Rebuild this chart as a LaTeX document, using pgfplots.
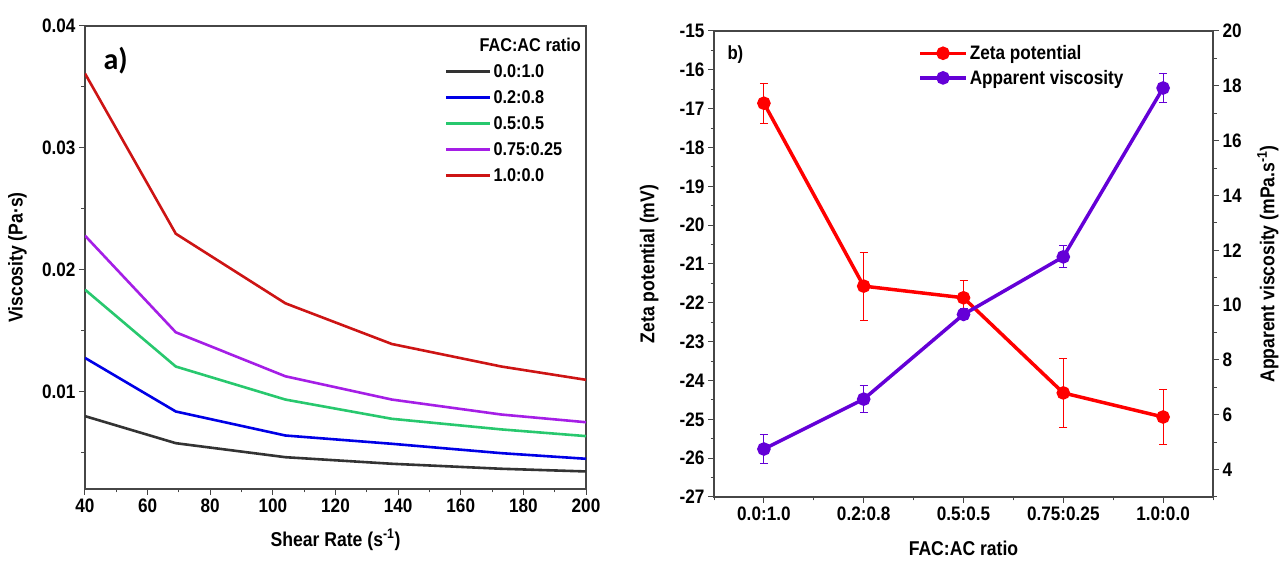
\documentclass[border=0pt]{standalone}
\usepackage{fontspec}
\setmainfont{Liberation Sans}[FakeStretch=0.88]
\newfontfamily\calib{Carlito}
\usepackage{pgfplots}
\pgfplotsset{compat=1.18}
\usepackage{pgfplotstable}

\definecolor{cBlack}{RGB}{51,51,51}
\definecolor{cBlue}{RGB}{0,0,230}
\definecolor{cGreen}{RGB}{40,200,110}
\definecolor{cPurple}{RGB}{165,30,230}
\definecolor{cRed}{RGB}{205,20,20}
\definecolor{zRed}{RGB}{255,0,0}
\definecolor{zPurple}{RGB}{100,0,215}
\definecolor{axcol}{RGB}{70,70,70}

\pgfplotstableread{
x     k        b        g        p        r
40    0.00798  0.01276  0.01836  0.02279  0.03610
69    0.00576  0.00836  0.01205  0.01486  0.02295
104   0.00461  0.00639  0.00934  0.01125  0.01724
138   0.00407  0.00571  0.00776  0.00934  0.01390
173   0.00366  0.00494  0.00689  0.00811  0.01205
200   0.00344  0.00448  0.00634  0.00748  0.01096
}\visc

\pgfplotstableread{
x  zeta    zerr  app    aerr
0  -16.86  0.52  4.75   0.53
1  -21.57  0.88  6.57   0.50
2  -21.87  0.45  9.66   0.20
3  -24.32  0.89  11.76  0.40
4  -24.94  0.71  17.92  0.53
}\zeta

\pgfplotsset{
  common/.style={
    scale only axis,
    anchor=south west,
    /pgf/number format/assume math mode=true,
    axis line style={axcol, line width=1.1pt},
    tick style={axcol, line width=1pt},
    tick align=outside,
    major tick length=6pt,
    minor tick length=3.5pt,
    tick label style={font=\fontsize{19.5}{22}\selectfont\bfseries},
    label style={font=\fontsize{20}{23}\selectfont\bfseries},
  },
}

\begin{document}
\begin{tikzpicture}[font=\fontsize{19}{22}\selectfont\bfseries]
\useasboundingbox (0pt,0pt) rectangle (1279pt,561pt);

% ---------- a) ----------
\begin{axis}[common,
  at={(85pt,72pt)}, width=501pt, height=463pt,
  xmin=40, xmax=200, ymin=0.002, ymax=0.04,
  xtick={40,60,...,200}, minor xtick={50,70,...,190},
  scaled y ticks=false,
  ytick={0.01,0.02,0.03,0.04}, yticklabels={0.01,0.02,0.03,0.04},
  minor ytick={0.005,0.015,0.025,0.035},
  tick pos=left,
  xlabel={Shear Rate (s\textsuperscript{-1})},
  ylabel={Viscosity (Pa·s)},
  xlabel style={at={(axis description cs:0.5,-0.11)}, anchor=center},
  ylabel style={at={(axis description cs:-0.135,0.5)}, anchor=center},
  legend style={draw=none, fill=none, at={(axis description cs:0.998,0.983)}, anchor=north east,
    font=\fontsize{18.5}{20}\selectfont\bfseries, row sep=7.5pt, inner sep=2pt},
  legend cell align=left,
  legend image code/.code={\draw[#1, line width=2.8pt] (0pt,0pt) -- (44pt,0pt);},
  every axis plot/.append style={line width=2.6pt},
]
\addlegendimage{empty legend}\addlegendentry{\hspace{-14pt}FAC:AC ratio}
\addplot[cBlack, no marks] table[x=x, y=k] {\visc}; \addlegendentry{0.0:1.0}
\addplot[cBlue, no marks] table[x=x, y=b] {\visc}; \addlegendentry{0.2:0.8}
\addplot[cGreen, no marks] table[x=x, y=g] {\visc}; \addlegendentry{0.5:0.5}
\addplot[cPurple, no marks] table[x=x, y=p] {\visc}; \addlegendentry{0.75:0.25}
\addplot[cRed, no marks] table[x=x, y=r] {\visc}; \addlegendentry{1.0:0.0}
\node[anchor=west, font=\calib\fontsize{30}{32}\selectfont\bfseries] at (axis description cs:0.03,0.925) {a)};
\end{axis}

% ---------- b) left axis ----------
\begin{axis}[common,
  at={(714pt,64pt)}, width=499pt, height=466pt,
  xmin=-0.5, xmax=4.5, ymin=-27, ymax=-15,
  xtick={0,1,2,3,4},
  xticklabels={0.0:1.0,0.2:0.8,0.5:0.5,0.75:0.25,1.0:0.0},
  minor xtick={-0.5,0.5,1.5,2.5,3.5,4.5},
  ytick={-27,-26,...,-15}, minor ytick={-26.5,-25.5,...,-15.5},
  tick pos=left,
  xlabel={FAC:AC ratio},
  ylabel={Zeta potential (mV)},
  xlabel style={at={(axis description cs:0.5,-0.11)}, anchor=center},
  ylabel style={at={(axis description cs:-0.13,0.5)}, anchor=center},
]
\addplot[zRed, line width=3.5pt, mark=*, mark size=5pt,
  error bars/.cd, y dir=both, y explicit,
  error bar style={line width=0.9pt, zRed},
  error mark options={rotate=90, mark size=4pt, line width=0.9pt, zRed}]
  table[x=x, y=zeta, y error=zerr] {\zeta};
\node[anchor=west] at (axis description cs:0.02,0.95) {b)};
\end{axis}

% ---------- b) right axis ----------
\begin{axis}[common,
  at={(714pt,64pt)}, width=499pt, height=466pt,
  xmin=-0.5, xmax=4.5, ymin=3, ymax=20,
  axis y line*=right, axis x line=none,
  ytick={4,6,...,20}, minor ytick={3,5,...,19},
  ylabel={Apparent viscosity (mPa.s\textsuperscript{-1})},
  ylabel style={at={(axis description cs:1.11,0.5)}, anchor=center},
  legend style={draw=none, fill=none, at={(axis description cs:0.405,0.978)}, anchor=north west,
    font=\fontsize{19.5}{21}\selectfont\bfseries, row sep=5pt, inner sep=2pt},
  legend cell align=left,
  legend image code/.code={\draw[mark repeat=2,mark phase=2,#1] plot coordinates {(0pt,0pt) (23pt,0pt) (46pt,0pt)};},
]
\addlegendimage{zRed, line width=3.5pt, mark=*, mark size=5pt}
\addlegendentry{Zeta potential}
\addplot[zPurple, line width=3.5pt, mark=*, mark size=5pt,
  error bars/.cd, y dir=both, y explicit,
  error bar style={line width=0.9pt, zPurple},
  error mark options={rotate=90, mark size=4pt, line width=0.9pt, zPurple}]
  table[x=x, y=app, y error=aerr] {\zeta};
\addlegendentry{Apparent viscosity}
\end{axis}
\end{tikzpicture}
\end{document}
